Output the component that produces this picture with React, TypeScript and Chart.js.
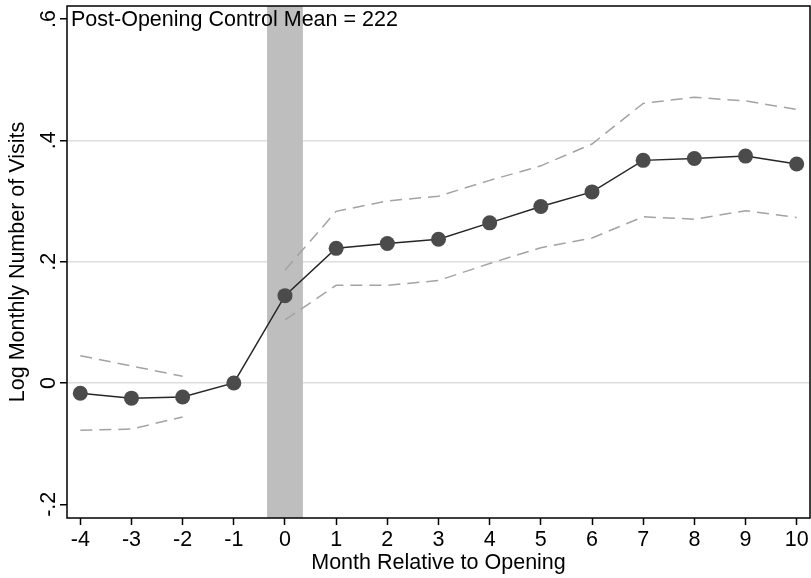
import React, { useEffect, useRef } from "react";
import { Chart, registerables } from "chart.js";

Chart.register(...registerables);

const months = [-4, -3, -2, -1, 0, 1, 2, 3, 4, 5, 6, 7, 8, 9, 10];
const coef = [-0.017, -0.025, -0.023, 0, 0.144, 0.222, 0.23, 0.237, 0.264, 0.291, 0.315, 0.367, 0.37, 0.374, 0.361];
const upperCI = [0.045, 0.028, 0.011, null, 0.186, 0.283, 0.3, 0.308, 0.334, 0.358, 0.394, 0.461, 0.471, 0.465, 0.451];
const lowerCI = [-0.078, -0.076, -0.056, null, 0.104, 0.161, 0.161, 0.169, 0.197, 0.223, 0.239, 0.274, 0.27, 0.284, 0.273];
const yTickValues = [-0.2, 0, 0.2, 0.4, 0.6];
const yTickLabels = ["-.2", "0", ".2", ".4", ".6"];
const gridValues = [0, 0.2, 0.4];
const bandStart = -0.35;
const bandEnd = 0.35;
const annotation = "Post-Opening Control Mean = 222";
const xTitle = "Month Relative to Opening";
const yTitle = "Log Monthly Number of Visits";

const FONT = "'Liberation Sans', Arial, Helvetica, sans-serif";
const FS = 21.5;

export default function App() {
  const ref = useRef<HTMLCanvasElement | null>(null);
  useEffect(() => {
    const canvas = ref.current;
    if (!canvas) return;
    const bandPlugin = {
      id: "band",
      beforeDatasetsDraw(chart: any) {
        const { ctx, chartArea, scales } = chart;
        const x0 = scales.x.getPixelForValue(bandStart);
        const x1 = scales.x.getPixelForValue(bandEnd);
        ctx.save();
        ctx.fillStyle = "#bebebe";
        ctx.fillRect(x0, chartArea.top, x1 - x0, chartArea.bottom - chartArea.top);
        ctx.restore();
      },
      afterDraw(chart: any) {
        const { ctx, chartArea } = chart;
        ctx.save();
        ctx.strokeStyle = "#000";
        ctx.lineWidth = 1.5;
        ctx.strokeRect(chartArea.left, chartArea.top, chartArea.right - chartArea.left, chartArea.bottom - chartArea.top);
        ctx.fillStyle = "#000";
        ctx.font = `${FS}px ${FONT}`;
        ctx.textBaseline = "alphabetic";
        ctx.textAlign = "left";
        ctx.fillText(annotation, chartArea.left + 4, 26);
        ctx.restore();
      },
    };
    const chart = new Chart(canvas, {
      type: "line",
      data: {
        datasets: [
          {
            label: "coef",
            data: months.map((m, i) => ({ x: m, y: coef[i] })),
            borderColor: "#262626",
            borderWidth: 1.5,
            pointRadius: 7.5,
            pointBackgroundColor: "#4b4b4b",
            pointBorderColor: "#4b4b4b",
            pointBorderWidth: 0,
            tension: 0,
          },
          {
            label: "upper",
            data: months.map((m, i) => ({ x: m, y: upperCI[i] })),
            borderColor: "#a3a3a3",
            borderWidth: 1.5,
            borderDash: [12, 7],
            pointRadius: 0,
            spanGaps: false,
            tension: 0,
          },
          {
            label: "lower",
            data: months.map((m, i) => ({ x: m, y: lowerCI[i] })),
            borderColor: "#a3a3a3",
            borderWidth: 1.5,
            borderDash: [12, 7],
            pointRadius: 0,
            spanGaps: false,
            tension: 0,
          },
        ],
      },
      options: {
        responsive: false,
        animation: false,
        layout: { autoPadding: false, padding: { top: 6, right: 1, left: 0, bottom: 0 } },
        plugins: { legend: { display: false }, tooltip: { enabled: false } },
        scales: {
          x: {
            type: "linear",
            min: -4.26,
            max: 10.26,
            afterBuildTicks: (s: any) => {
              s.ticks = months.map((v) => ({ value: v }));
            },
            afterFit: (s: any) => {
              s.height = 60;
            },
            border: { display: false },
            grid: {
              color: "rgba(0,0,0,0)",
              drawOnChartArea: false,
              drawTicks: true,
              tickLength: 7,
              tickColor: "#000",
              tickWidth: 1.5,
            },
            ticks: {
              color: "#000",
              font: { family: FONT, size: FS },
              padding: 2,
              maxRotation: 0,
              minRotation: 0,
              autoSkip: false,
              callback: (v: any) => String(v),
            },
            title: {
              display: true,
              text: xTitle,
              color: "#000",
              font: { family: FONT, size: FS },
              padding: { top: 0, bottom: 2 },
            },
          },
          y: {
            type: "linear",
            min: -0.2226,
            max: 0.6215,
            afterBuildTicks: (s: any) => {
              s.ticks = yTickValues.map((v) => ({ value: v }));
            },
            afterFit: (s: any) => {
              s.width = 67;
              s.paddingTop = 0;
              s.paddingBottom = 0;
            },
            border: { display: false },
            grid: {
              color: (c: any) => {
                const v = c.tick ? c.tick.value : null;
                return v !== null && gridValues.some((g) => Math.abs(g - v) < 1e-9) ? "#dedede" : "rgba(0,0,0,0)";
              },
              lineWidth: 1.5,
              drawTicks: true,
              tickLength: 7,
              tickColor: "#000",
              tickWidth: 1.5,
            },
            ticks: {
              color: "#000",
              font: { family: FONT, size: FS, lineHeight: 0.7 },
              padding: -2,
              minRotation: 90,
              maxRotation: 90,
              crossAlign: "center",
              autoSkip: false,
              callback: (v: any) => {
                const i = yTickValues.findIndex((t) => Math.abs(t - v) < 1e-9);
                return i >= 0 ? yTickLabels[i] : "";
              },
            },
            title: {
              display: true,
              text: yTitle,
              color: "#000",
              font: { family: FONT, size: FS },
              padding: { top: 5, bottom: 0 },
            },
          },
        },
      },
      plugins: [bandPlugin],
    } as any);
    return () => chart.destroy();
  }, []);
  return (
    <div style={{ position: "absolute", left: 0, top: 0, width: 811, height: 578, background: "#fff" }}>
      <canvas ref={ref} width={811} height={578} style={{ display: "block" }} />
    </div>
  );
}
